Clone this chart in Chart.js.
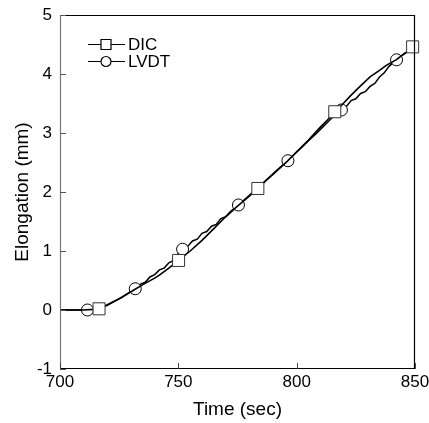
<!DOCTYPE html>
<html>
<head>
<meta charset="utf-8">
<script src="https://cdn.jsdelivr.net/npm/chart.js@4/dist/chart.umd.min.js"></script>
<style>
  html, body { margin: 0; padding: 0; background: #fff; }
  #wrap { width: 429px; height: 423px; position: relative; }
</style>
</head>
<body>
<div id="wrap"><canvas id="c" width="429" height="423"></canvas></div>
<script>
// ---- data ----
const seriesNames = ['DIC', 'LVDT'];
const dicTime = [700, 705, 710, 714, 716.5, 720, 725, 730, 735, 740, 742, 746, 750.1, 755, 760, 765, 770, 775, 780, 783.6, 787, 790, 793, 796, 800, 805, 810, 813, 816.1, 819, 822.5, 826, 831, 835, 838, 842, 846, 849, 850];
const dicElong = [0, 0, 0, 0.01, 0.02, 0.08, 0.19, 0.31, 0.43, 0.54, 0.59, 0.71, 0.84, 1.0, 1.18, 1.38, 1.58, 1.76, 1.93, 2.06, 2.19, 2.3, 2.41, 2.52, 2.68, 2.88, 3.1, 3.22, 3.36, 3.47, 3.62, 3.76, 3.95, 4.06, 4.15, 4.24, 4.36, 4.46, 4.48];
const dicMarkerTimes = [716.5, 750.1, 783.6, 816.1, 849];

const lvdtTime = [700, 705, 710, 711.6, 714, 717, 720, 723, 726, 729, 731.8, 734, 736, 738, 740, 742, 744, 746, 748, 750, 751.8, 754, 756, 758, 760, 762, 764, 766, 768, 770, 772, 775.4, 778, 781, 784, 787, 790, 793, 796.3, 799, 802, 805, 808, 811, 814, 816, 818.9, 821, 823, 825, 827, 829, 831, 833, 835, 837, 839, 842.2, 845, 848, 850];
const lvdtElong = [0, 0, 0, 0, 0.01, 0.04, 0.09, 0.15, 0.21, 0.29, 0.36, 0.44, 0.47, 0.56, 0.6, 0.68, 0.71, 0.80, 0.84, 0.96, 1.03, 1.08, 1.17, 1.2, 1.3, 1.33, 1.42, 1.45, 1.55, 1.58, 1.67, 1.78, 1.87, 1.98, 2.09, 2.2, 2.31, 2.42, 2.53, 2.64, 2.75, 2.87, 2.98, 3.1, 3.22, 3.3, 3.39, 3.45, 3.55, 3.58, 3.67, 3.7, 3.79, 3.84, 3.95, 4.02, 4.13, 4.24, 4.33, 4.41, 4.46];
const lvdtMarkerTimes = [711.6, 731.8, 751.8, 775.4, 796.3, 818.9, 842.2];

const xTicks = [700, 750, 800, 850];
const yTicks = [-1, 0, 1, 2, 3, 4, 5];
const xTitle = 'Time (sec)';
const yTitle = 'Elongation (mm)';

const FONT = '"Liberation Sans", Arial, sans-serif';

function toPoints(t, v) { return t.map((x, i) => ({ x: x, y: v[i] })); }

const framePlugin = {
  id: 'frame',
  afterDatasetsDraw(chart) {
    const { ctx, chartArea: a, scales } = chart;
    ctx.save();
    ctx.lineWidth = 1.2;
    ctx.strokeStyle = '#000';
    ctx.beginPath();
    ctx.moveTo(a.left, a.top + 0.5); ctx.lineTo(a.right, a.top + 0.5);
    ctx.moveTo(a.right - 0.5, a.top); ctx.lineTo(a.right - 0.5, a.bottom);
    ctx.moveTo(a.left, a.bottom - 0.5); ctx.lineTo(a.right, a.bottom - 0.5);
    ctx.stroke();
    ctx.strokeStyle = '#777';
    ctx.beginPath();
    ctx.moveTo(a.left + 0.5, a.top); ctx.lineTo(a.left + 0.5, a.bottom);
    ctx.stroke();
    ctx.lineWidth = 1;
    ctx.strokeStyle = '#555';
    ctx.beginPath();
    yTicks.forEach(v => {
      const y = Math.round(scales.y.getPixelForValue(v)) + 0.5;
      ctx.moveTo(a.left, y); ctx.lineTo(a.left + 6, y);
    });
    ctx.stroke();
    ctx.strokeStyle = '#444';
    ctx.beginPath();
    xTicks.forEach(v => {
      const x = Math.round(scales.x.getPixelForValue(v)) + 0.5;
      ctx.moveTo(x, a.bottom); ctx.lineTo(x, a.bottom - 6);
    });
    ctx.stroke();
    ctx.restore();
  },
  afterDraw(chart) {
    const { ctx } = chart;
    ctx.save();
    const rows = [
      { y: 44, label: seriesNames[0], style: 'rect' },
      { y: 61, label: seriesNames[1], style: 'circle' }
    ];
    rows.forEach(r => {
      ctx.strokeStyle = '#000';
      ctx.lineWidth = 1.2;
      ctx.beginPath();
      ctx.moveTo(88, r.y + 0.5); ctx.lineTo(125, r.y + 0.5);
      ctx.stroke();
      ctx.fillStyle = '#fff';
      ctx.beginPath();
      if (r.style === 'rect') {
        ctx.rect(101, r.y - 4.5, 10, 10);
      } else {
        ctx.arc(106, r.y + 0.5, 5, 0, Math.PI * 2);
      }
      ctx.fill();
      ctx.stroke();
      ctx.fillStyle = '#000';
      ctx.font = '17px ' + FONT;
      ctx.textBaseline = 'middle';
      ctx.textAlign = 'left';
      ctx.fillText(r.label, 128, r.y + 1);
    });
    ctx.restore();
  }
};

function markerRadius(markers, r) {
  return ctx => {
    const p = ctx.raw;
    return p && markers.includes(p.x) ? r : 0;
  };
}

new Chart(document.getElementById('c'), {
  type: 'line',
  data: {
    datasets: [
      {
        label: seriesNames[0],
        data: toPoints(dicTime, dicElong),
        borderColor: '#000',
        borderWidth: 1.6,
        backgroundColor: '#fff',
        pointStyle: 'rect',
        pointRadius: markerRadius(dicMarkerTimes, 8.5),
        pointBorderColor: '#333',
        pointBackgroundColor: '#fff',
        pointBorderWidth: 1,
        tension: 0,
        clip: false
      },
      {
        label: seriesNames[1],
        data: toPoints(lvdtTime, lvdtElong),
        borderColor: '#000',
        borderWidth: 1.5,
        backgroundColor: '#fff',
        pointStyle: 'circle',
        pointRadius: markerRadius(lvdtMarkerTimes, 6),
        pointBorderColor: '#000',
        pointBackgroundColor: '#fff',
        pointBorderWidth: 1,
        tension: 0,
        clip: false
      }
    ]
  },
  options: {
    responsive: false,
    animation: false,
    events: [],
    layout: { padding: { top: 15, right: 14, left: 0, bottom: 0 } },
    plugins: { legend: { display: false }, tooltip: { enabled: false } },
    scales: {
      x: {
        type: 'linear',
        min: 700, max: 850,
        afterBuildTicks(s) { s.ticks = xTicks.map(v => ({ value: v })); },
        afterFit(s) { s.height = 54; s.paddingLeft = 0; s.paddingRight = 0; },
        grid: { display: false, drawTicks: false },
        border: { display: false },
        ticks: { color: '#000', font: { family: FONT, size: 17 }, padding: 3, maxRotation: 0, autoSkip: false },
        title: { display: true, text: xTitle, color: '#000', font: { family: FONT, size: 19 }, padding: { top: 2, bottom: 2 } }
      },
      y: {
        type: 'linear',
        min: -1, max: 5,
        afterBuildTicks(s) { s.ticks = yTicks.map(v => ({ value: v })); },
        afterFit(s) { s.width = 60; s.paddingTop = 0; s.paddingBottom = 0; },
        grid: { display: false, drawTicks: false },
        border: { display: false },
        ticks: { color: '#000', font: { family: FONT, size: 17 }, padding: 8, autoSkip: false },
        title: { display: true, text: yTitle, color: '#000', font: { family: FONT, size: 19 }, padding: { top: 11, bottom: 2 } }
      }
    }
  },
  plugins: [framePlugin]
});
</script>
</body>
</html>
